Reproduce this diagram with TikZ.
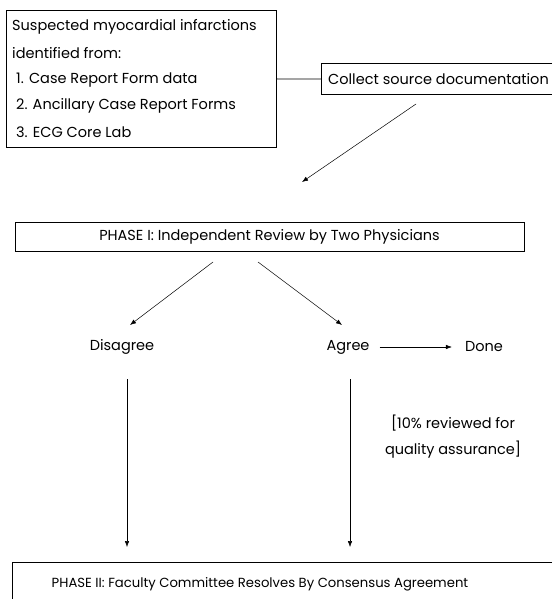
\documentclass[tikz,border=0pt]{standalone}
\usepackage{fontspec}
\setmainfont{Poppins}
\usetikzlibrary{arrows.meta,positioning}

\begin{document}
\begin{tikzpicture}[x=1pt,y=-1pt,
  txt/.style={font=\fontsize{14.5}{17}\selectfont,inner sep=0pt},
  box/.style={draw,line width=0.8pt},
  flow/.style={-{Latex[length=6pt,width=4.5pt]},line width=0.5pt}]
  \useasboundingbox (0,0) rectangle (552,599);

% source box
  \node[box,anchor=north west,minimum width=270pt,minimum height=137pt,inner sep=0pt] (src) at (6,10) {};
  \node[txt,anchor=west] (src1) at (12,27) {Suspected myocardial infarctions};
  \node[txt,anchor=west] (src2) at (12,53) {identified from:};
  \foreach \y/\text [count=\i from 3] in {80/1. Case Report Form data,106/2. Ancillary Case Report Forms,132/3. ECG Core Lab}{
    \node[txt,anchor=west] (src\i) at (16,\y) {\text};
  }

% collect box, open to the right
  \draw[line width=0.8pt] (552,63) -- (321,63) -- (321,94) -- (552,94);
  \coordinate (collectin) at (321,79);
  \node[txt,anchor=west] (collect) at (328,79) {Collect source documentation};
  \draw[line width=0.8pt] (src.east) -- (collectin);

% phase I
  \node[box,txt,minimum width=509pt,minimum height=29pt] (phase1) at (269.5,236.5) {PHASE I: Independent Review by Two Physicians};
  \coordinate (c1) at (416,104);
  \coordinate (c2) at (302,182);
  \draw[flow] (c1) -- (c2);

% outcomes
  \node[txt] (dis) at (122,347) {Disagree};
  \node[txt] (agree) at (348,347) {Agree};
  \node[txt] (done) at (484,347) {Done};
  \coordinate (p1) at (213,262);
  \coordinate (p2) at (258,262);
  \coordinate (d1) at (130,325);
  \coordinate (a1) at (342,325);
  \draw[flow] (p1) -- (d1);
  \draw[flow] (p2) -- (a1);
  \draw[flow] ([xshift=10pt]agree.east) -- ([xshift=-13pt]done.west);

  \node[txt,align=center,font=\fontsize{14.5}{26}\selectfont] (qa) at (453,437) {[10\% reviewed for\\quality assurance]};

% phase II, open to the right and bottom
  \draw[line width=0.8pt] (552,562) -- (12,562) -- (12,599);
  \node[txt,font=\fontsize{13.2}{16}\selectfont] (phase2) at (260,584) {PHASE II: Faculty Committee Resolves By Consensus Agreement};
  \coordinate (d2) at (127,379);
  \coordinate (d3) at (127,547);
  \coordinate (a2) at (350,379);
  \coordinate (a3) at (350,547);
  \draw[flow] (d2) -- (d3);
  \draw[flow] (a2) -- (a3);
\end{tikzpicture}
\end{document}
